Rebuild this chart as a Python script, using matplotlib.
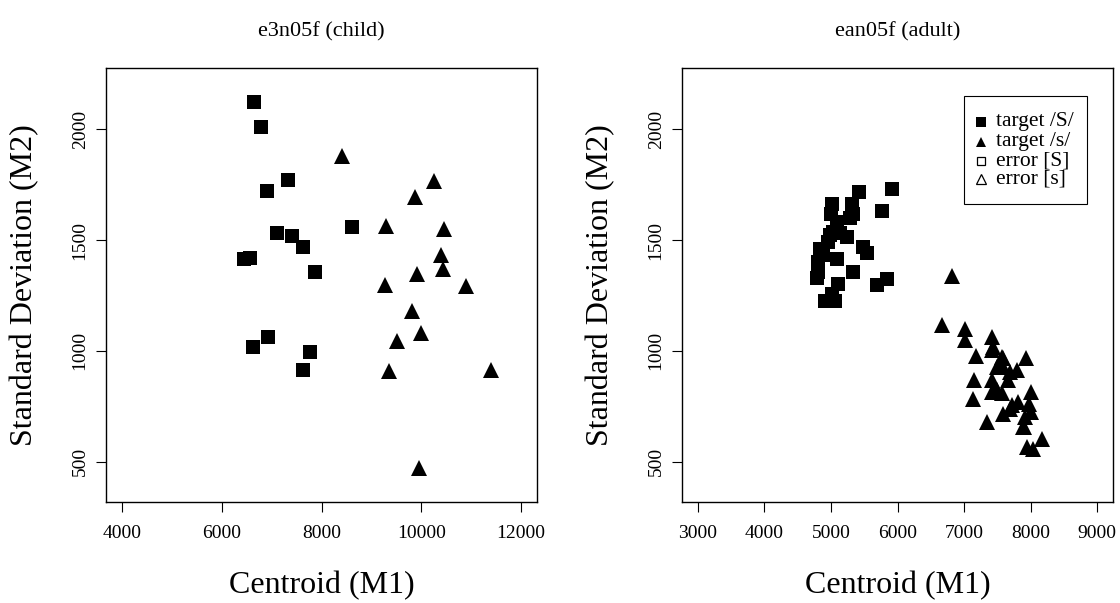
import matplotlib
matplotlib.use("Agg")
from matplotlib import pyplot as plt
from matplotlib.patches import Rectangle

plt.rcParams['font.family'] = ['Liberation Serif', 'DejaVu Serif']

# e3n05f (child)
child_sh_m1 = [6639, 6780, 7331, 6909, 7116, 7411, 7638, 8609, 6452, 6573,
               7879, 6928, 6619, 7764, 7624]
child_sh_m2 = [2122, 2009, 1771, 1720, 1533, 1519, 1470, 1559, 1414, 1419,
               1354, 1065, 1018, 997, 914]
child_s_m1 = [8415, 10265, 9869, 9293, 10446, 10392, 10438, 9923, 9272, 10900,
              9814, 10003, 9513, 9347, 11397, 9964]
child_s_m2 = [1881, 1765, 1694, 1563, 1550, 1432, 1368, 1345, 1297, 1291,
              1181, 1083, 1045, 908, 913, 473]

# ean05f (adult)
adult_sh_m1 = [5922, 5426, 5762, 5010, 5311, 4995, 5335, 5085, 5286, 4985,
               5236, 5135, 5486, 5536, 4835, 4885, 5085, 4809, 4809, 4784,
               5335, 5837, 5687, 5110, 5010, 4910, 5060, 4960, 5035]
adult_sh_m2 = [1730, 1718, 1632, 1661, 1661, 1616, 1616, 1583, 1598, 1523,
               1515, 1530, 1470, 1440, 1462, 1432, 1417, 1402, 1357, 1327,
               1357, 1324, 1297, 1304, 1259, 1224, 1224, 1492, 1538]
adult_s_m1 = [6820, 6664, 7008, 7018, 7416, 7416, 7176, 7932, 7150, 7140,
              7567, 7591, 7792, 7416, 7666, 7416, 7567, 7692, 7491, 7591,
              7441, 7491, 8000, 7817, 7717, 7591, 8000, 7902, 8176, 7950,
              8030, 7350, 7970, 7917, 7880, 7692]
adult_s_m2 = [1337, 1116, 1097, 1051, 1061, 1003, 976, 970, 868, 781,
              973, 928, 913, 868, 868, 815, 810, 905, 928, 966,
              1018, 822, 815, 770, 755, 717, 725, 657, 604, 566,
              559, 679, 762, 702, 657, 740]

legend_labels = ['target /S/', 'target /s/', 'error [S]', 'error [s]']

W, H = 1120, 603
fig = plt.figure(figsize=(W / 100, H / 100), dpi=100)


def make_axes(x0, title, xticks, xlim):
    ax = fig.add_axes([x0 / W, (H - 502) / H, 431 / W, 434 / H])
    ax.set_xlim(*xlim)
    ax.set_ylim(318, 2277)
    ax.set_xticks(xticks)
    ax.set_yticks([500, 1000, 1500, 2000])
    ax.tick_params(axis='both', labelsize=14, length=7.5, width=0.8)
    ax.tick_params(axis='x', pad=9)
    ax.tick_params(axis='y', pad=5)
    for lab in ax.get_yticklabels():
        lab.set_rotation(90)
        lab.set_va('center')
    for sp in ax.spines.values():
        sp.set_linewidth(1.0)
    ax.set_title(title, fontsize=16, pad=23)
    ax.set_xlabel('Centroid (M1)', fontsize=23)
    ax.set_ylabel('Standard Deviation (M2)', fontsize=23)
    ax.xaxis.set_label_coords(0.5, -0.158)
    ax.yaxis.set_label_coords(-0.155, 0.5)
    return ax


ax1 = make_axes(106, 'e3n05f (child)', [4000, 6000, 8000, 10000, 12000], (3680, 12320))
ax1.plot(child_sh_m1, child_sh_m2, 's', color='black', ms=10, mew=0)
ax1.plot(child_s_m1, child_s_m2, '^', color='black', ms=12, mew=0)

ax2 = make_axes(682, 'ean05f (adult)', [3000, 4000, 5000, 6000, 7000, 8000, 9000], (2760, 9240))
ax2.plot(adult_sh_m1, adult_sh_m2, 's', color='black', ms=10, mew=0)
ax2.plot(adult_s_m1, adult_s_m2, '^', color='black', ms=12, mew=0)

# legend box drawn by hand (R style), in axes fractions
ax2.add_patch(Rectangle((0.654, 0.687), 0.286, 0.249, transform=ax2.transAxes,
                        fill=False, edgecolor='black', linewidth=0.8, zorder=5))
row_y = [0.876, 0.830, 0.786, 0.744]
styles = [
    dict(marker='s', color='black', ms=6.5, mew=0),
    dict(marker='^', color='black', ms=7.5, mew=0),
    dict(marker='s', mfc='none', mec='black', ms=6, mew=0.9),
    dict(marker='^', mfc='none', mec='black', ms=7.5, mew=0.9),
]
for y, st, lab in zip(row_y, styles, legend_labels):
    ax2.plot([0.694], [y], ls='', transform=ax2.transAxes, clip_on=False, **st)
    ax2.text(0.7285, y, lab, transform=ax2.transAxes, fontsize=15.5,
             va='center', ha='left')

fig.savefig('out.png', dpi=100)
